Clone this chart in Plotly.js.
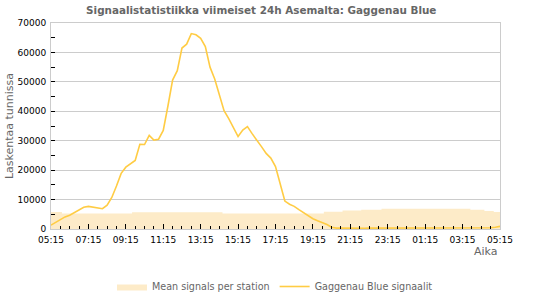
<!DOCTYPE html>
<html>
<head>
<meta charset="utf-8">
<script src="https://cdn.plot.ly/plotly-3.0.1.min.js"></script>
<style>html,body{margin:0;padding:0;background:#fff}#chart{width:550px;height:300px}</style>
</head>
<body>
<div id="chart"></div>
<script>
// Start of the 24h window
const START = '2024-01-01 05:15';
const STEP_MIN = 15; // minutes between line samples

// Station signals (count per hour), one value every 15 min from 05:15
const stationSignals = [
  1300, 2200, 3200, 4100, 4700, 5600, 6600, 7400, 7700, 7400, 7100, 6900,
  8100, 10700, 14600, 18900, 21000, 22200, 23300, 28800, 28700, 31800, 30200, 30500,
  33500, 41800, 50600, 53800, 61500, 62800, 66400, 66000, 64800, 62000, 55000, 51000,
  46000, 40200, 37500, 34300, 31400, 33600, 34800, 32400, 30000, 28000, 25700, 24100,
  21200, 15000, 9500, 8400, 7700, 6600, 5500, 4300, 3500, 2800, 2200, 1500,
  600, 300, 300, 250, 300, 300, 300, 250, 300, 300, 300, 300,
  300, 300, 300, 250, 300, 300, 300, 300, 300, 300, 300, 300,
  300, 300, 300, 300, 300, 300, 300, 300, 300, 300, 400, 600,
  900
];

// Mean signals per station (step curve): minutes from start, value
const meanMinutes = [0, 35, 260, 550, 875, 935, 995, 1060, 1345, 1390, 1420, 1440];
const meanValues  = [5750, 5300, 5650, 5300, 5850, 6300, 6500, 6850, 6550, 6150, 5800, 5800];

const titleText = 'Signaalistatistiikka viimeiset 24h Asemalta: Gaggenau Blue';
const yTitle = 'Laskentaa tunnissa';
const xTitle = 'Aika';
const meanName = 'Mean signals per station';
const lineName = 'Gaggenau Blue signaalit';

function timeAt(min) {
  const base = Date.UTC(2024, 0, 1, 5, 15);
  const d = new Date(base + min * 60000);
  const p = n => String(n).padStart(2, '0');
  return d.getUTCFullYear() + '-' + p(d.getUTCMonth() + 1) + '-' + p(d.getUTCDate()) + ' ' +
         p(d.getUTCHours()) + ':' + p(d.getUTCMinutes());
}
const lineX = stationSignals.map((_, i) => timeAt(i * STEP_MIN));
const meanX = meanMinutes.map(timeAt);

const FONT = 'DejaVu Sans, sans-serif';

const traces = [
  {
    x: meanX, y: meanValues, name: meanName, type: 'scatter', mode: 'lines',
    line: {shape: 'hv', width: 0, color: '#fdebc8'},
    fill: 'tozeroy', fillcolor: '#fdebc8', hoverinfo: 'skip'
  },
  {
    x: lineX, y: stationSignals, name: lineName, type: 'scatter', mode: 'lines',
    line: {color: '#ffcc44', width: 1.6}
  }
];

const layout = {
  width: 550, height: 300,
  margin: {l: 51, r: 50, t: 23, b: 71},
  paper_bgcolor: '#fff', plot_bgcolor: '#fff',
  font: {family: FONT, size: 9, color: '#000'},
  title: {text: '<b>' + titleText + '</b>', font: {family: FONT, size: 10.4, color: '#666'},
          x: 0.475, xanchor: 'center', y: 0.967, yanchor: 'middle', yref: 'container'},
  xaxis: {
    type: 'date', range: [timeAt(0), timeAt(1440)],
    tick0: START, dtick: 7200000, tickformat: '%H:%M',
    ticks: 'inside', ticklen: 5, tickcolor: '#000', tickwidth: 1,
    minor: {dtick: 1800000, tick0: START, ticks: 'inside', ticklen: 3, tickcolor: '#000', showgrid: false},
    showgrid: false, showline: true, linecolor: '#ccc', linewidth: 1, mirror: true,
    tickfont: {family: FONT, size: 9, color: '#000'}, zeroline: false, ticklabelstandoff: 2
  },
  yaxis: {
    range: [0, 70000], dtick: 10000, tickformat: 'd',
    ticks: 'inside', ticklen: 4, tickcolor: '#000',
    minor: {dtick: 5000, ticks: 'inside', ticklen: 4, tickcolor: '#000', showgrid: false},
    showgrid: true, gridcolor: '#ccc', gridwidth: 1,
    showline: true, linecolor: '#ccc', linewidth: 1, mirror: true,
    zeroline: false, ticklabelstandoff: 2,
    tickfont: {family: FONT, size: 9, color: '#000'},
    title: {text: yTitle, font: {family: FONT, size: 11, color: '#666'}, standoff: 1}
  },
  showlegend: true,
  legend: {orientation: 'h', x: 0.5, xanchor: 'center', xref: 'container', y: 0.045, yref: 'container', yanchor: 'middle',
           font: {family: FONT, size: 9.6, color: '#666'}, traceorder: 'normal', itemwidth: 30},
  annotations: [
    {text: xTitle, xref: 'paper', yref: 'paper', x: 1, y: 0, xanchor: 'right', yanchor: 'top', yshift: -14,
     showarrow: false, font: {family: FONT, size: 11, color: '#666'}}
  ]
};

Plotly.newPlot('chart', traces, layout, {displayModeBar: false, staticPlot: true});
</script>
</body>
</html>
